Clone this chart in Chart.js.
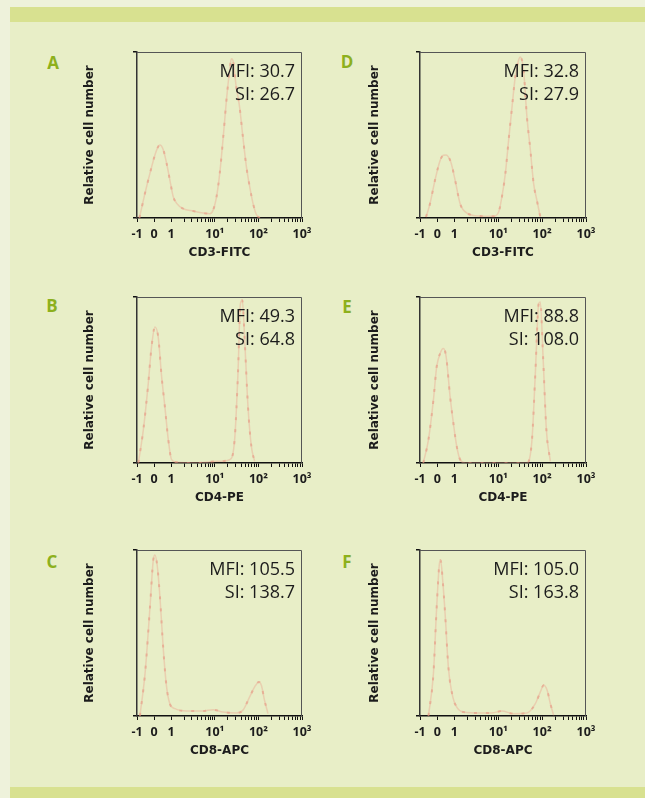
<!DOCTYPE html>
<html>
<head>
<meta charset="utf-8">
<script src="https://cdn.jsdelivr.net/npm/chart.js@4.4.0/dist/chart.umd.min.js"></script>
<style>
  body { margin: 0; width: 645px; height: 798px; background: #eef2db; position: relative; overflow: hidden; font-family: "Open Sans", sans-serif; }
  #sheet { position: absolute; left: 10px; top: 7px; width: 635px; height: 791px; background: #e8eec7; }
  .bar { position: absolute; left: 10px; width: 635px; background: #d8e190; }
  .letter { position: absolute; font-size: 17px; font-weight: bold; color: #8db01d; line-height: 1; transform: translate(-50%, -50%); }
  .box { position: absolute; }
</style>
</head>
<body>
<div id="sheet"></div>
<div class="bar" style="top:7px;height:15px"></div>
<div class="bar" style="top:787px;height:11px"></div>
<div id="panels"></div>
<script>
// panel labels and stats
const panelLetters = ["A", "B", "C", "D", "E", "F"];
const markers = ["CD3-FITC", "CD4-PE", "CD8-APC", "CD3-FITC", "CD4-PE", "CD8-APC"];
const mfiValues = [30.7, 49.3, 105.5, 32.8, 88.8, 105.0];
const siValues = [26.7, 64.8, 138.7, 27.9, 108.0, 163.8];

// x axis (biexponential-like display)
const xTickValues = [-1, 0, 1, 10, 100, 1000];
const xTickLabels = ["-1", "0", "1", "10\u00b9", "10\u00b2", "10\u00b3"];

// histograms: fluorescence intensity vs relative cell number (%)
const intensityA = [-0.86, -0.53, -0.24, 0.05, 0.24, 0.34, 0.54, 0.73, 0.92, 1.11, 1.32, 1.88, 3.2, 5.4, 7.7, 9.1, 11, 13, 15.4, 18.5, 21.9, 24, 26, 31, 37, 44, 53, 63, 75, 90, 107];
const countA = [0, 15, 27, 38, 43, 44, 41, 33, 23, 13, 9, 5.6, 4.2, 3, 2.6, 4.6, 13, 27, 47, 71, 89, 96, 95, 79, 67, 49, 31, 19, 9, 2, 0];

const intensityB = [-0.92, -0.63, -0.34, -0.15, 0.05, 0.24, 0.44, 0.63, 0.83, 1.02, 1.32, 3.8, 11, 21.9, 28.5, 34, 38.7, 42.8, 48.5, 57.7, 69, 82];
const countB = [0, 20, 48, 70, 82, 76, 52, 34, 14, 2, 0.4, 0, 1, 2, 14, 54, 96, 98, 74, 34, 10, 1];

const intensityC = [-0.83, -0.53, -0.24, -0.05, 0.05, 0.19, 0.34, 0.54, 0.73, 0.92, 1.22, 2.25, 5.4, 9.1, 15.4, 31, 44, 63, 82, 103, 117, 138, 166];
const countC = [0, 25.5, 65.6, 93.8, 97, 90, 72, 40, 17.5, 7.4, 4.4, 3, 3, 3.8, 2.4, 1.8, 3.4, 11.5, 17.5, 20.5, 18.5, 9.5, 1.4];

const intensityD = [-0.65, -0.42, -0.13, 0.17, 0.36, 0.52, 0.79, 1.04, 1.35, 1.92, 3.87, 7.8, 10.2, 12.1, 14.5, 17.2, 20.6, 24.4, 29, 31.8, 37.7, 45, 54, 64, 76, 91];
const countD = [0.6, 8.6, 22.7, 34.7, 37.8, 38, 33.7, 22.7, 8.6, 3, 1.2, 1, 3.6, 12.7, 26.7, 46.8, 66.9, 85, 95, 97, 89, 61, 40.8, 20.7, 10.6, 0.6];

const intensityE = [-0.81, -0.51, -0.22, -0.03, 0.17, 0.36, 0.52, 0.75, 0.94, 1.13, 1.35, 1.75, 45, 58.7, 70, 83.5, 91, 105, 125, 154];
const countE = [0, 14, 38, 58, 66, 69, 64, 40, 24, 10, 2, 0, 0, 14, 54, 96, 97, 64, 20, 1];

const intensityF = [-0.51, -0.22, -0.03, 0.13, 0.2, 0.32, 0.46, 0.65, 0.905, 1.13, 1.61, 3.87, 7.8, 12.1, 22.3, 45, 70, 91, 108, 130, 154, 183];
const countF = [0, 25.5, 65.6, 91.8, 93.8, 81.7, 61.6, 29.4, 11.5, 5.4, 2.4, 1.8, 2, 3, 1.4, 1.8, 7.4, 14.5, 18.5, 15.5, 7.4, 0.4];

const intensities = [intensityA, intensityB, intensityC, intensityD, intensityE, intensityF];
const counts = [countA, countB, countC, countD, countE, countF];

const DECADE = 2.55;
function toAxis(v) {
  return v <= 1 ? v : 1 + DECADE * Math.log10(v);
}

let allTicks = [-1, 0, 1];
[1, 10, 100].forEach(function (k) {
  for (let m = 2; m <= 10; m++) allTicks.push(k * m);
});

const colLeft = [82, 367];
const colRight = [302, 586];
const colAxisWidth = [55, 53];
const rowTop = [52, 297, 550];
const letterPos = [[53, 62], [52, 305], [52, 561], [347, 61], [347, 306], [347, 561]];

const titleFont = { family: "DejaVu Sans", size: 12, weight: "bold" };

const panels = document.getElementById("panels");

const framePlugin = {
  id: "frame",
  afterDraw(chart) {
    const a = chart.chartArea;
    const ctx = chart.ctx;
    ctx.save();
    ctx.strokeStyle = "#555";
    ctx.lineWidth = 1;
    ctx.beginPath();
    ctx.moveTo(a.left, a.top + 0.5);
    ctx.lineTo(a.right - 0.5, a.top + 0.5);
    ctx.lineTo(a.right - 0.5, a.bottom);
    ctx.stroke();
    ctx.restore();
  },
};

for (let i = 0; i < 6; i++) {
  const col = Math.floor(i / 3);
  const row = i % 3;

  const letter = document.createElement("div");
  letter.className = "letter";
  letter.style.left = letterPos[i][0] + "px";
  letter.style.top = letterPos[i][1] + "px";
  letter.textContent = panelLetters[i];
  panels.appendChild(letter);

  const box = document.createElement("div");
  box.className = "box";
  box.style.left = colLeft[col] + "px";
  box.style.top = rowTop[row] - 10 + "px";
  const canvas = document.createElement("canvas");
  canvas.width = colRight[col] + 20 - colLeft[col];
  canvas.height = 218;
  box.appendChild(canvas);
  panels.appendChild(box);

  const points = intensities[i].map(function (v, j) {
    return { x: toAxis(v), y: counts[i][j] };
  });

  const statsPlugin = {
    id: "stats" + i,
    afterDraw(chart) {
      const a = chart.chartArea;
      const ctx = chart.ctx;
      ctx.save();
      ctx.font = '18px "Open Sans"';
      ctx.fillStyle = "#1c1c1c";
      ctx.textAlign = "right";
      ctx.textBaseline = "middle";
      ctx.fillText("MFI: " + mfiValues[i].toFixed(1), a.right - 7, a.top + 20);
      ctx.fillText("SI: " + siValues[i].toFixed(1), a.right - 7, a.top + 43);
      ctx.restore();
    },
  };

  new Chart(canvas, {
    type: "line",
    data: {
      datasets: [
        {
          data: points,
          borderColor: "rgba(236,160,140,0.4)",
          borderWidth: 1.5,
          pointRadius: 0,
          cubicInterpolationMode: "monotone",
          fill: false,
        },
        {
          data: points,
          borderColor: "rgba(226,120,105,0.45)",
          borderWidth: 2,
          borderDash: [3, 9],
          pointRadius: 0,
          cubicInterpolationMode: "monotone",
          fill: false,
        },
      ],
    },
    options: {
      responsive: false,
      animation: false,
      devicePixelRatio: 1,
      layout: { padding: { top: 10, right: 20, left: 0, bottom: 0 } },
      plugins: { legend: { display: false }, tooltip: { enabled: false } },
      scales: {
        x: {
          type: "linear",
          min: -1,
          max: toAxis(1000),
          afterBuildTicks: function (scale) {
            scale.ticks = allTicks.map(function (v) {
              return { value: toAxis(v) };
            });
          },
          afterFit: function (scale) {
            scale.height = 42;
          },
          ticks: {
            autoSkip: false,
            maxRotation: 0,
            padding: 5,
            color: "#1c1c1c",
            font: { family: "Open Sans", size: 12.5, weight: "bold" },
            callback: function (value, index) {
              const k = xTickValues.indexOf(allTicks[index]);
              return k >= 0 ? xTickLabels[k] : "";
            },
          },
          grid: { drawOnChartArea: false, tickLength: 4, color: "#111" },
          border: { color: "#111", width: 1.5 },
          title: {
            display: true,
            text: markers[i],
            color: "#1c1c1c",
            padding: { top: 0, bottom: 0 },
            font: titleFont,
          },
        },
        y: {
          min: 0,
          max: 100,
          afterBuildTicks: function (scale) {
            scale.ticks = [{ value: 0 }, { value: 100 }];
          },
          afterFit: function (scale) {
            scale.width = colAxisWidth[col];
          },
          ticks: { display: false },
          grid: { drawOnChartArea: false, tickLength: 4, color: "#111", lineWidth: 1.5 },
          border: { color: "#333", width: 1.5 },
          title: {
            display: true,
            text: "Relative cell number",
            color: "#1c1c1c",
            padding: { top: 1, bottom: 0 },
            font: titleFont,
          },
        },
      },
    },
    plugins: [framePlugin, statsPlugin],
  });
}
</script>
</body>
</html>
